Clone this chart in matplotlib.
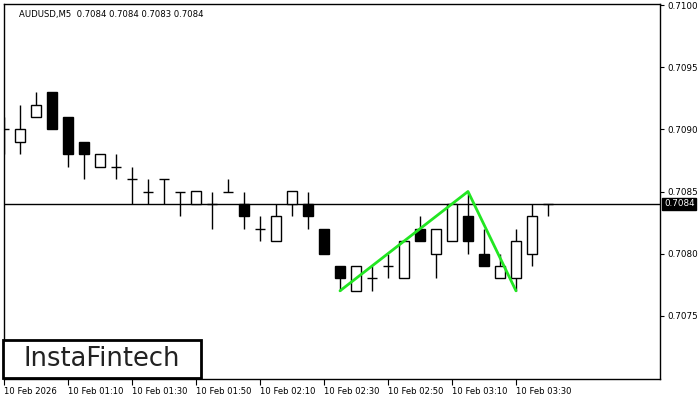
import matplotlib
matplotlib.use("Agg")
import matplotlib.pyplot as plt
import matplotlib.transforms as mtransforms
from matplotlib.patches import Rectangle

# OHLC of the 5 minute bars, first bar 00:50
opens  = [0.7090, 0.7089, 0.7091, 0.7093, 0.7091, 0.7089, 0.7087, 0.7087, 0.7086, 0.7085,
          0.7086, 0.7085, 0.7084, 0.7084, 0.7085, 0.7084, 0.7082, 0.7081, 0.7084, 0.7084,
          0.7082, 0.7079, 0.7077, 0.7078, 0.7079, 0.7078, 0.7082, 0.7080, 0.7081, 0.7083,
          0.7080, 0.7078, 0.7078, 0.7080, 0.7084]
highs  = [0.7091, 0.7092, 0.7093, 0.7093, 0.7091, 0.7089, 0.7088, 0.7088, 0.7087, 0.7086,
          0.7086, 0.7085, 0.7085, 0.7085, 0.7086, 0.7085, 0.7083, 0.7084, 0.7085, 0.7085,
          0.7082, 0.7079, 0.7079, 0.7079, 0.7080, 0.7081, 0.7083, 0.7082, 0.7084, 0.7085,
          0.7082, 0.7080, 0.7082, 0.7084, 0.7084]
lows   = [0.7088, 0.7088, 0.7091, 0.7090, 0.7087, 0.7086, 0.7087, 0.7086, 0.7084, 0.7084,
          0.7084, 0.7083, 0.7084, 0.7082, 0.7085, 0.7082, 0.7081, 0.7081, 0.7083, 0.7082,
          0.7080, 0.7077, 0.7077, 0.7077, 0.7078, 0.7078, 0.7081, 0.7078, 0.7081, 0.7080,
          0.7079, 0.7078, 0.7077, 0.7079, 0.7083]
closes = [0.7090, 0.7090, 0.7092, 0.7090, 0.7088, 0.7088, 0.7088, 0.7087, 0.7086, 0.7085,
          0.7086, 0.7085, 0.7085, 0.7084, 0.7085, 0.7083, 0.7082, 0.7083, 0.7085, 0.7083,
          0.7080, 0.7078, 0.7079, 0.7078, 0.7079, 0.7081, 0.7081, 0.7082, 0.7084, 0.7081,
          0.7079, 0.7079, 0.7081, 0.7083, 0.7084]

# double top pattern: bar index / price
pattern_x = [21, 29, 32]
pattern_y = [0.7077, 0.7085, 0.7077]

tick_pos = [0, 4, 8, 12, 16, 20, 24, 28, 32]
tick_labels = ["10 Feb 2026", "10 Feb 01:10", "10 Feb 01:30", "10 Feb 01:50", "10 Feb 02:10",
               "10 Feb 02:30", "10 Feb 02:50", "10 Feb 03:10", "10 Feb 03:30"]
price_ticks = [0.7075, 0.7080, 0.7085, 0.7090, 0.7095, 0.7100]
title = "AUDUSD,M5  0.7084 0.7084 0.7083 0.7084"

fig = plt.figure(figsize=(7, 4), dpi=100)
ax = fig.add_axes([4/700, 21/400, 656/700, 375/400])
ax.set_xlim(0, 41)
ax.set_ylim(0.70699, 0.71001)

w = 0.6
lw = 1.0
last = closes[-1]
ax.axhline(last, color="black", lw=1.0, zorder=1)

for i in range(len(opens)):
    o, h, l, c = opens[i], highs[i], lows[i], closes[i]
    ax.vlines(i, l, h, color="black", lw=lw, zorder=2)
    if abs(c - o) < 1e-9:
        ax.hlines(o, i - w/2, i + w/2, color="black", lw=lw, zorder=3)
    else:
        face = "white" if c > o else "black"
        ax.bar(i, abs(c - o), bottom=min(o, c), width=w, color=face,
               edgecolor="black", linewidth=lw, zorder=3)

ax.plot(pattern_x, pattern_y, color="#22e622", lw=2.0, zorder=5, solid_capstyle="round")

ax.set_xticks(tick_pos)
ax.set_xticklabels(tick_labels, fontsize=6.1)
for t in ax.get_xticklabels():
    t.set_ha("left")
ax.tick_params(axis="x", direction="out", length=4, width=0.8, pad=2)

ax.yaxis.tick_right()
ax.set_yticks(price_ticks)
ax.set_yticklabels(["%.4f" % p for p in price_ticks], fontsize=6.3)
ax.tick_params(axis="y", direction="out", length=3, width=0.8, pad=2)

for s in ax.spines.values():
    s.set_linewidth(1.0)

trans = mtransforms.blended_transform_factory(ax.transAxes, ax.transData)
ax.text(1.006, last, "%.4f" % last, transform=trans, fontsize=6.3, color="white",
        va="center", ha="left", clip_on=False,
        bbox=dict(boxstyle="square,pad=0.2", fc="black", ec="black"))

ax.text(0.023, 0.985, title, transform=ax.transAxes, fontsize=6.1, va="top", ha="left")

# logo box
fig.patches.append(Rectangle((3/700, 22/400), 198/700, 38/400, transform=fig.transFigure,
                             fill=True, fc="white", ec="black", lw=2, zorder=10))
fig.text(102/700, 41/400, "InstaFintech", fontsize=18.5, color="#222222",
         ha="center", va="center", zorder=11)

fig.savefig("out.png", dpi=100)
